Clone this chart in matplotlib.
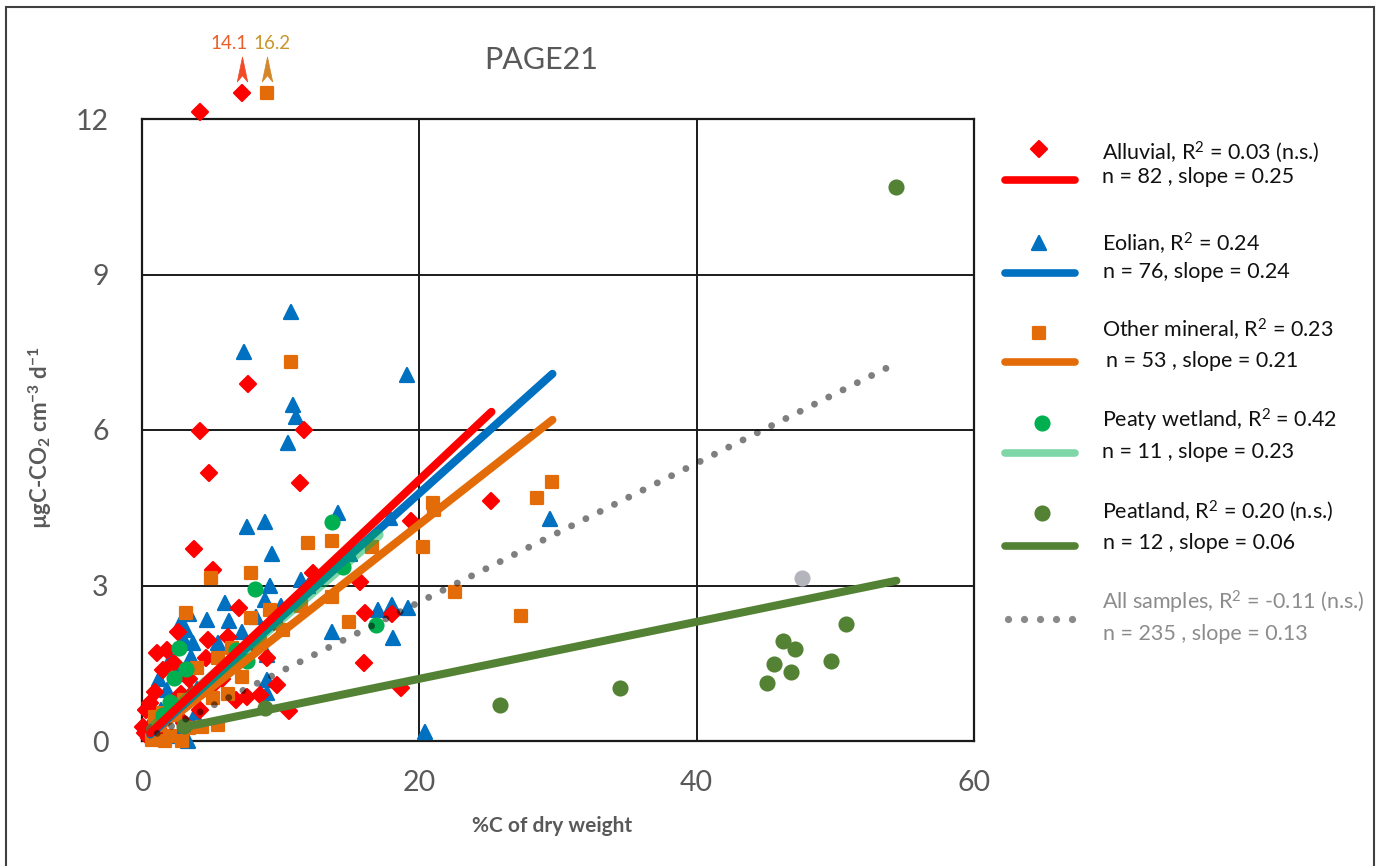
import numpy as np
import matplotlib
matplotlib.use("Agg")
import matplotlib.pyplot as plt
from matplotlib.markers import MarkerStyle
from matplotlib.lines import Line2D
from matplotlib.patches import Rectangle
from matplotlib.path import Path
import matplotlib.transforms as mtransforms

plt.rcParams['font.family'] = ['Lato', 'DejaVu Sans']
plt.rcParams['mathtext.fontset'] = 'custom'
plt.rcParams['mathtext.rm'] = 'Lato'
plt.rcParams['mathtext.it'] = 'Lato'
plt.rcParams['mathtext.bf'] = 'Lato:bold'

# ---------------- data ----------------
alluvial_x = [4.2, 7.2, 7.64, 4.18, 11.7, 4.83, 11.4, 3.75, 5.1, 19.4, 25.2, 12.3, 15.7, 7.0,
              4.75, 2.6, 1.8, 1.07, 16.1, 16.0, 18.7, 10.6, 9.7, 7.6, 6.8, 8.5, 1.5, 0.94,
              0.6, 0.1, 0.2, 18.0, 2.0, 1.3, 2.8, 3.4, 0.5, 5.8, 4.2, 6.2, 2.3, 3.0, 9.0,
              9.5, 8.0, 6.5, 5.2, 1.0, 2.5, 3.6, 4.6, 0.3]
alluvial_y = [12.14, 14.1, 6.88, 5.98, 6.0, 5.17, 4.98, 3.7, 3.3, 4.25, 4.63, 3.24, 3.07, 2.57,
              1.95, 2.1, 1.76, 1.7, 2.47, 1.5, 1.02, 0.58, 1.08, 0.85, 0.79, 0.89, 1.37, 0.95,
              0.73, 0.27, 0.15, 2.45, 0.5, 0.2, 0.9, 1.2, 0.05, 1.2, 0.6, 2.0, 1.5, 0.35, 1.6,
              2.3, 1.9, 1.5, 1.1, 0.5, 0.6, 0.9, 1.6, 0.6]

eolian_x = [10.74, 7.35, 19.08, 10.9, 11.1, 10.5, 7.55, 8.87, 14.1, 9.4, 9.2, 11.5, 6.0, 4.7,
            6.3, 7.2, 8.9, 3.2, 3.7, 3.5, 9.0, 13.7, 17.0, 18.0, 19.2, 18.1, 20.4, 9.0, 9.0,
            29.4, 1.8, 0.7, 3.3, 2.8, 3.4, 3.0, 2.5, 1.2, 2.1, 4.0, 3.8, 2.6, 1.4, 0.4, 5.5,
            6.8, 8.2, 10.0, 12.0, 15.0, 17.9]
eolian_y = [8.28, 7.51, 7.07, 6.49, 6.25, 5.75, 4.13, 4.23, 4.4, 3.6, 3.0, 3.1, 2.66, 2.33,
            2.31, 2.1, 2.72, 2.14, 1.89, 1.62, 1.66, 2.1, 2.53, 2.62, 2.57, 1.98, 0.17, 1.18, 0.93,
            4.28, 0.98, 0.4, 0.0, 2.3, 2.45, 1.95, 1.3, 1.2, 1.6, 1.0, 0.5, 0.1, 0.6, 0.2, 1.9,
            1.6, 2.4, 2.6, 3.0, 3.6, 4.3]

other_x = [9.0, 10.72, 12.0, 13.7, 5.0, 7.87, 21.0, 21.05, 20.3, 28.5, 29.6, 22.6, 27.3, 3.2,
           7.86, 9.2, 5.5, 7.2, 13.7, 14.9, 4.0, 5.1, 0.94, 1.5, 0.7, 1.65, 2.9, 4.3, 16.6,
           10.2, 3.4, 2.0, 6.2, 5.5, 1.2, 2.4, 3.0, 6.5, 8.5, 11.5]
other_y = [16.2, 7.31, 3.82, 3.86, 3.15, 3.24, 4.6, 4.45, 3.75, 4.69, 5.0, 2.88, 2.41, 2.47,
           2.37, 2.53, 1.6, 1.24, 2.78, 2.3, 1.41, 0.83, 0.46, 0.54, 0.02, 0.0, 0.0, 0.27, 3.75,
           2.14, 0.25, 0.1, 0.9, 0.3, 0.3, 0.5, 0.8, 1.8, 1.9, 2.6]

peaty_x = [13.7, 14.5, 8.15, 16.9, 2.67, 3.2, 2.3, 2.0, 6.8, 7.6, 1.5]
peaty_y = [4.23, 3.36, 2.93, 2.24, 1.8, 1.39, 1.22, 0.75, 1.75, 1.55, 0.5]

peatland_x = [54.4, 25.8, 34.5, 46.2, 47.1, 45.6, 46.8, 45.1, 49.7, 50.8, 8.9, 3.0]
peatland_y = [10.68, 0.69, 1.02, 1.92, 1.77, 1.48, 1.33, 1.12, 1.55, 2.25, 0.64, 0.28]

grey_x = [47.6]
grey_y = [3.14]

# trendlines: alluvial, eolian, other mineral, peaty wetland, peatland, all samples
fit_slope = [0.252, 0.24, 0.21, 0.23, 0.055, 0.134]
fit_intercept = [0.0, -0.02, -0.02, 0.07, 0.10, 0.0]
fit_xmin = [0.6, 0.6, 0.6, 0.7, 3.1, 1.1]
fit_xmax = [25.2, 29.6, 29.6, 17.0, 54.4, 53.9]

legend_line1 = ['Alluvial, R$^2$ = 0.03 (n.s.)', 'Eolian, R$^2$ = 0.24',
                'Other mineral, R$^2$ = 0.23', 'Peaty wetland, R$^2$ = 0.42',
                'Peatland, R$^2$ = 0.20 (n.s.)', 'All samples, R$^2$ = -0.11 (n.s.)']
legend_line2 = ['n = 82 , slope = 0.25', 'n = 76, slope = 0.24', 'n = 53 , slope = 0.21',
                'n = 11 , slope = 0.23', 'n = 12 , slope = 0.06', 'n = 235 , slope = 0.13']

x_ticks = [0, 20, 40, 60]
y_ticks = [0, 3, 6, 9, 12]
y_cap = 12.5

# ---------------- styles ----------------
RED = '#ff0000'
BLUE = '#0070c0'
ORANGE = '#e36c09'
GREEN = '#00b050'
PEAT = '#548235'
GREYTXT = '#595959'

W, H = 1378, 866
fig = plt.figure(figsize=(W / 100, H / 100), dpi=100)


def fx(px):
    return px / W


def fy(py):
    return 1 - py / H


ax = fig.add_axes([fx(142), fy(741), (974 - 142) / W, (741 - 119) / H])
ax.set_xlim(0, 60)
ax.set_ylim(0, 12)
ax.set_xticks(x_ticks)
ax.set_yticks(y_ticks)
ax.tick_params(length=0, labelsize=20.5, labelcolor=GREYTXT)
ax.tick_params(axis='y', pad=24)
ax.tick_params(axis='x', pad=21)
ax.grid(True, color='#1a1a1a', lw=1.4, zorder=1)
ax.set_axisbelow(True)
for s in ax.spines.values():
    s.set_color('#1a1a1a')
    s.set_linewidth(1.6)


def mk(m):
    return MarkerStyle(m, joinstyle='round')


DMS = 8.4
series = [
    (eolian_x, eolian_y, '^', BLUE, 9.5),
    (alluvial_x, alluvial_y, 'D', RED, DMS),
    (other_x, other_y, 's', ORANGE, 9.0),
    (peaty_x, peaty_y, 'o', GREEN, 10.0),
    (peatland_x, peatland_y, 'o', PEAT, 10.0),
    (grey_x, grey_y, 'o', '#b4b4bc', 10.0),
]
for i, (xs, ys, m, c, ms) in enumerate(series):
    ax.plot(xs, np.minimum(ys, y_cap), ls='none', marker=mk(m), ms=ms, mfc=c, mec=c,
            mew=1.6, clip_on=False, zorder=3 + i * 0.1)

# trendlines
line_styles = [
    dict(color=RED, lw=5.8, zorder=6),
    dict(color=BLUE, lw=5.8, zorder=4.2),
    dict(color=ORANGE, lw=5.8, zorder=4.1),
    dict(color=GREEN, lw=8.5, alpha=0.5, zorder=5),
    dict(color=PEAT, lw=5.8, zorder=5.5),
    dict(color='black', lw=5.0, alpha=0.5, zorder=6.5, dashes=(0.001, 2.3),
         dash_capstyle='round'),
]
for k in range(6):
    xx = np.array([fit_xmin[k], fit_xmax[k]])
    yy = fit_intercept[k] + fit_slope[k] * xx
    ax.plot(xx, yy, solid_capstyle='round', **line_styles[k])

# off-scale arrows
arrow_path = Path([(0, 1), (0.42, -1), (0, -0.5), (-0.42, -1), (0, 1)],
                  [Path.MOVETO, Path.LINETO, Path.LINETO, Path.LINETO, Path.CLOSEPOLY])
arrow_trans = mtransforms.offset_copy(ax.transData, fig=fig, x=0, y=24, units='dots')
over = [(alluvial_x, alluvial_y, '#f24a26', '#e8602c', -13),
        (other_x, other_y, '#d4862a', '#c9962c', 5)]
for xs, ys, ac, tc, dx in over:
    for xv, yv in zip(xs, ys):
        if yv > y_cap:
            ax.plot([xv], [y_cap], ls='none', marker=arrow_path, ms=18, mfc=ac, mec=ac,
                    mew=0.5, transform=arrow_trans, clip_on=False, zorder=7)
            ax.annotate(f'{yv:.1f}', xy=(xv, y_cap), xytext=(dx, 50), textcoords='offset pixels',
                        ha='center', va='center', fontsize=13.5, color=tc,
                        family=['Liberation Sans Narrow', 'Lato'], annotation_clip=False)

# titles / labels
fig.text(fx(541), fy(60), 'PAGE21', ha='center', va='center', fontsize=22, color=GREYTXT)
fig.text(fx(552), fy(826), '%C of dry weight', ha='center', va='center', fontsize=15,
         fontweight='bold', color=GREYTXT)
fig.text(fx(40), fy(438), r'µgC-CO$_\mathbf{2}$ cm$^\mathbf{-3}$ d$^\mathbf{-1}$', rotation=90,
         ha='center', va='center', fontsize=16, fontweight='bold', color=GREYTXT)

# figure frame
fig.add_artist(Rectangle((fx(6), -0.05), fx(1374) - fx(6), fy(7) + 0.05, transform=fig.transFigure,
                         fill=False, ec='#404040', lw=1.5))

# legend
leg_marker = [('D', RED, DMS), ('^', BLUE, 9.5), ('s', ORANGE, 9.0), ('o', GREEN, 10.0),
              ('o', PEAT, 10.0)]
leg_line_col = [(RED, 1.0), (BLUE, 1.0), (ORANGE, 1.0), (GREEN, 0.5), (PEAT, 1.0)]
marker_y = [149, 243, 333, 423, 513]
marker_xp = [1039, 1039, 1039, 1042, 1042]
line_yp = [180, 273, 362, 453, 546]
t1_y = [159, 252, 338, 428, 518, 609]
t2_y = [183, 278, 367, 458, 549, 640]
t2_x = [1102, 1103, 1106, 1102, 1103, 1103]
for k in range(5):
    m, c, ms = leg_marker[k]
    fig.add_artist(Line2D([fx(marker_xp[k])], [fy(marker_y[k])], ls='none', marker=mk(m), ms=ms,
                          mfc=c, mec=c, mew=1.6, transform=fig.transFigure))
    lc, la = leg_line_col[k]
    fig.add_artist(Line2D([fx(1005), fx(1075)], [fy(line_yp[k])] * 2, color=lc, alpha=la,
                          lw=5.5, solid_capstyle='round', transform=fig.transFigure))
for k in range(6):
    col = '#111111' if k < 5 else '#8c8c8c'
    fig.text(fx(1102), fy(t1_y[k]), legend_line1[k], ha='left', va='baseline', fontsize=15.5,
             color=col)
    fig.text(fx(t2_x[k]), fy(t2_y[k]), legend_line2[k], ha='left', va='baseline', fontsize=15.5,
             color=col)
dots_x = np.linspace(1008, 1072, 5)
fig.add_artist(Line2D(fx(dots_x), [fy(619)] * 5, ls='none', marker='o', ms=5.2, mfc='#8a8a8a',
                      mec='none', transform=fig.transFigure))

fig.savefig('out.png', dpi=100)
